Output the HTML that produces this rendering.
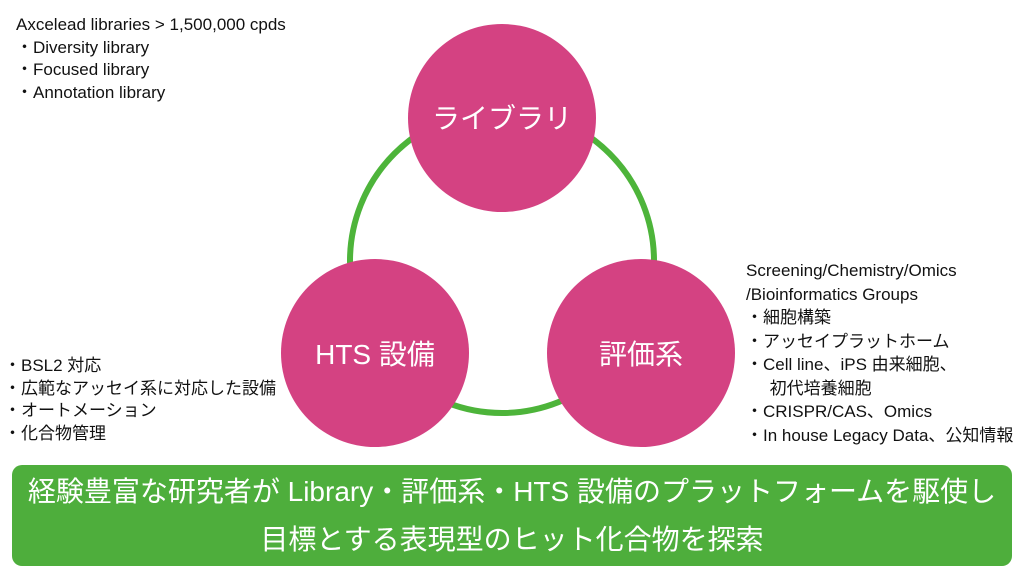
<!DOCTYPE html>
<html><head><meta charset="utf-8"><style>
body{margin:0;width:1024px;height:576px;background:#fff;position:relative;overflow:hidden;font-family:"Liberation Sans","Noto Sans CJK JP",sans-serif;color:#111}
.t{position:absolute;font-size:17px;line-height:22.5px;white-space:nowrap}
.box{position:absolute;left:12px;top:465px;width:1000px;height:101px;background:#4eae3c;border-radius:10px;color:#fff;font-size:28px;text-align:center;line-height:48px;padding-top:3px;box-sizing:border-box;white-space:nowrap}
</style></head><body>
<svg width="1024" height="576" style="position:absolute;left:0;top:0">
<circle cx="502" cy="261" r="152" fill="none" stroke="#4db43a" stroke-width="6"/>
<g fill="#d44282">
<circle cx="502" cy="118" r="94"/>
<circle cx="375" cy="353" r="94"/>
<circle cx="641" cy="353" r="94"/>
</g>
<g fill="#fff" font-family="Liberation Sans,Noto Sans CJK JP,sans-serif" font-size="28" text-anchor="middle">
<text x="502" y="128">ライブラリ</text>
<text x="375" y="364">HTS 設備</text>
<text x="641" y="364">評価系</text>
</g>
</svg>
<div class="t" style="left:16px;top:14px">Axcelead libraries &gt; 1,500,000 cpds<br>・Diversity library<br>・Focused library<br>・Annotation library</div>
<div class="t" style="left:746px;top:259px;line-height:23.5px">Screening/Chemistry/Omics<br>/Bioinformatics Groups<br>・細胞構築<br>・アッセイプラットホーム<br>・Cell line、iPS 由来細胞、<br>&nbsp;&nbsp;&nbsp;&nbsp;&nbsp;初代培養細胞<br>・CRISPR/CAS、Omics<br>・In house Legacy Data、公知情報</div>
<div class="t" style="left:4px;top:355px">・BSL2 対応<br>・広範なアッセイ系に対応した設備<br>・オートメーション<br>・化合物管理</div>
<div class="box">経験豊富な研究者が Library・評価系・HTS 設備のプラットフォームを駆使し<br>目標とする表現型のヒット化合物を探索</div>
</body></html>
